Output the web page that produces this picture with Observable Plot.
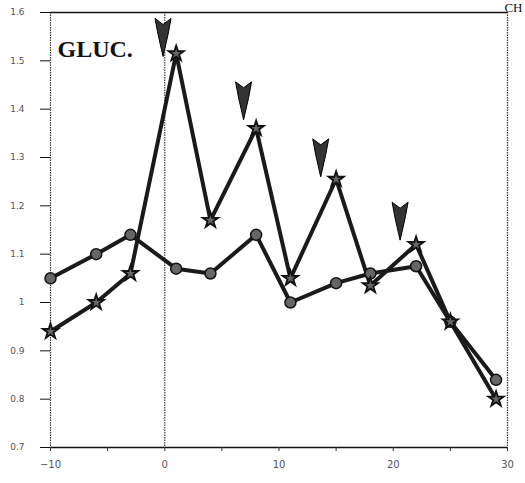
<!DOCTYPE html>
<html>
<head>
<meta charset="utf-8">
<script src="https://cdn.jsdelivr.net/npm/d3@7"></script>
<script src="https://cdn.jsdelivr.net/npm/@observablehq/plot@0.6"></script>
<style>
  html, body { margin: 0; padding: 0; background: #fff; }
  #chart svg { display: block; }
</style>
</head>
<body>
<div id="chart"></div>
<script>
// Days relative to first dose
const days = [-10, -6, -3, 1, 4, 8, 11, 15, 18, 22, 25, 29];
// Series with circle markers
const circleSeries = [1.05, 1.10, 1.14, 1.07, 1.06, 1.14, 1.00, 1.04, 1.06, 1.075, 0.96, 0.84];
// Series with star markers
const starSeries = [0.94, 1.00, 1.06, 1.515, 1.17, 1.36, 1.05, 1.255, 1.035, 1.12, 0.96, 0.80];
// Dose arrows (tip positions)
const arrowX = [-0.15, 6.9, 13.65, 20.6];
const arrowY = [1.509, 1.378, 1.26, 1.129];
// Axis ticks
const yTicks = [0.7, 0.8, 0.9, 1.0, 1.1, 1.2, 1.3, 1.4, 1.5, 1.6];
const yTickLabels = ["0.7", "0.8", "0.9", "1", "1.1", "1.2", "1.3", "1.4", "1.5", "1.6"];
const xTicks = [-10, 0, 10, 20, 30];
const xTickLabels = ["\u221210", "0", "10", "20", "30"];
const xMinorTicks = [-10, -5, 0, 5, 10, 15, 20, 25, 30];
const panelLabel = "GLUC.";
const cornerText = "CH";

const circleData = days.map((d, i) => ({day: d, v: circleSeries[i]}));
const starData = days.map((d, i) => ({day: d, v: starSeries[i]}));
const arrowData = arrowX.map((x, i) => ({x, y: arrowY[i]}));

const arrowSymbol = {
  draw(ctx) {
    ctx.moveTo(0, 0);
    ctx.lineTo(-5, -22);
    ctx.lineTo(-8, -38);
    ctx.lineTo(0, -32);
    ctx.lineTo(8, -38);
    ctx.lineTo(5, -22);
    ctx.closePath();
  }
};

const chart = Plot.plot({
  width: 525,
  height: 483,
  marginLeft: 50,
  marginRight: 18,
  marginTop: 12,
  marginBottom: 36,
  style: {background: "#fff"},
  x: {domain: [-10, 30], axis: null},
  y: {domain: [0.7, 1.6], axis: null},
  marks: [
    // frame
    Plot.ruleX([-10, 30], {stroke: "#333", strokeWidth: 1.2, strokeDasharray: "1.5,1"}),
    Plot.ruleX([0], {stroke: "#444", strokeWidth: 1.2, strokeDasharray: "1.5,1"}),
    Plot.ruleY([1.6], {stroke: "#111", strokeWidth: 1.3}),
    Plot.ruleY([0.7], {stroke: "#111", strokeWidth: 1.3}),
    // y axis
    Plot.axisY(yTicks, {
      anchor: "left", tickSize: 10, tickPadding: 16, stroke: "#111",
      tickFormat: (d) => yTickLabels[yTicks.indexOf(d)],
      fontSize: 9, fill: "#555", fontFamily: "DejaVu Sans"
    }),
    // x axis minor/major tick marks
    Plot.axisX(xMinorTicks, {
      anchor: "bottom", tickSize: 4, stroke: "#333", tickFormat: () => ""
    }),
    Plot.axisX(xTicks, {
      anchor: "bottom", tickSize: 0, tickPadding: 13,
      tickFormat: (d) => xTickLabels[xTicks.indexOf(d)],
      fontSize: 10, fill: "#555", fontFamily: "DejaVu Sans"
    }),
    // lines
    Plot.line(circleData, {x: "day", y: "v", stroke: "#1a1a1a", strokeWidth: 4}),
    Plot.line(starData, {x: "day", y: "v", stroke: "#1a1a1a", strokeWidth: 4}),
    Plot.dot(circleData, {x: "day", y: "v", r: 5.5, fill: "#666", stroke: "#111", strokeWidth: 1.5}),
    Plot.dot(starData, {x: "day", y: "v", r: 4.8, symbol: "star", fill: "#666", stroke: "#111", strokeWidth: 1.8}),
    // dose arrows
    Plot.dot(arrowData, {x: "x", y: "y", symbol: arrowSymbol, r: 5, fill: "#333", stroke: "#000", strokeWidth: 1}),
    // texts
    Plot.text([panelLabel], {
      frameAnchor: "top-left", dx: 7, dy: 37, textAnchor: "start", lineAnchor: "middle",
      fontSize: 24, fontWeight: "bold", fontFamily: "Liberation Serif", fill: "#111"
    }),
    Plot.text([cornerText], {
      frameAnchor: "top-right", dx: 15, dy: -5, textAnchor: "end", lineAnchor: "middle",
      fontSize: 13, fontFamily: "Liberation Serif", fill: "#111"
    })
  ]
});
document.getElementById("chart").appendChild(chart);
</script>
</body>
</html>
